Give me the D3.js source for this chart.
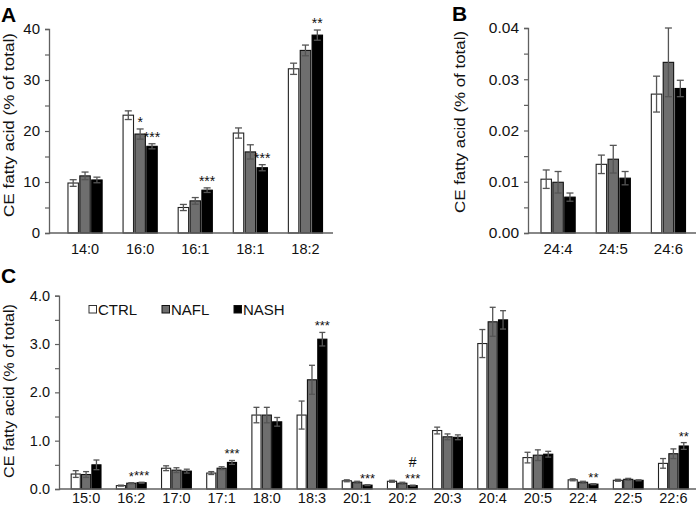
<!DOCTYPE html>
<html><head><meta charset="utf-8">
<script src="https://cdn.jsdelivr.net/npm/d3@7"></script>
<style>
body{margin:0;background:#fff;}
svg{display:block;font-family:"Liberation Sans",Arial,sans-serif;}
</style></head>
<body>
<svg id="chart" width="697" height="513"></svg>
<script>
// ---------- DATA ----------
const seriesNames = ["CTRL", "NAFL", "NASH"];

const catsA = ["14:0", "16:0", "16:1", "18:1", "18:2"];
const ctrlA = [9.8, 23.1, 5.0, 19.6, 32.2];
const naflA = [11.2, 19.4, 6.3, 15.9, 35.8];
const nashA = [10.4, 17.0, 8.4, 12.8, 38.8];
const ctrlErrA = [0.65, 0.85, 0.6, 1.0, 1.1];
const naflErrA = [0.75, 1.0, 0.65, 1.4, 1.05];
const nashErrA = [0.55, 0.5, 0.45, 0.6, 1.0];
const sigA = [
  {cat: "16:0", s: 1, t: "*", lvl: 0},
  {cat: "16:0", s: 2, t: "***", lvl: 0},
  {cat: "16:1", s: 2, t: "***", lvl: 0},
  {cat: "18:1", s: 2, t: "***", lvl: 0},
  {cat: "18:2", s: 2, t: "**", lvl: 0}
];
const ticksA = [0, 5, 10, 15, 20, 25, 30, 35, 40];
const tickLabelsA = ["0", "", "10", "", "20", "", "30", "", "40"];

const catsB = ["24:4", "24:5", "24:6"];
const ctrlB = [0.0105, 0.0134, 0.0271];
const naflB = [0.0099, 0.0144, 0.0333];
const nashB = [0.0070, 0.0107, 0.0282];
const ctrlErrB = [0.0018, 0.0018, 0.0035];
const naflErrB = [0.0021, 0.0027, 0.0067];
const nashErrB = [0.0008, 0.0013, 0.0016];
const sigB = [];
const ticksB = [0, 0.005, 0.01, 0.015, 0.02, 0.025, 0.03, 0.035, 0.04];
const tickLabelsB = ["0.00", "", "0.01", "", "0.02", "", "0.03", "", "0.04"];

const catsC = ["15:0", "16:2", "17:0", "17:1", "18:0", "18:3", "20:1", "20:2", "20:3", "20:4", "20:5", "22:4", "22:5", "22:6"];
const ctrlC = [0.31, 0.07, 0.43, 0.33, 1.53, 1.53, 0.17, 0.16, 1.21, 3.01, 0.65, 0.19, 0.18, 0.53];
const naflC = [0.30, 0.12, 0.39, 0.43, 1.53, 2.26, 0.14, 0.12, 1.08, 3.46, 0.70, 0.14, 0.20, 0.73];
const nashC = [0.50, 0.13, 0.37, 0.55, 1.39, 3.10, 0.08, 0.07, 1.07, 3.50, 0.72, 0.10, 0.18, 0.89];
const ctrlErrC = [0.07, 0.01, 0.05, 0.03, 0.16, 0.29, 0.02, 0.02, 0.07, 0.29, 0.11, 0.02, 0.02, 0.10];
const naflErrC = [0.06, 0.01, 0.05, 0.03, 0.16, 0.30, 0.02, 0.02, 0.06, 0.30, 0.11, 0.02, 0.02, 0.10];
const nashErrC = [0.10, 0.01, 0.04, 0.04, 0.09, 0.14, 0.01, 0.01, 0.05, 0.19, 0.06, 0.01, 0.01, 0.07];
const sigC = [
  {cat: "16:2", s: 1, t: "*", lvl: 0},
  {cat: "16:2", s: 2, t: "***", lvl: 0},
  {cat: "17:1", s: 2, t: "***", lvl: 0},
  {cat: "18:3", s: 2, t: "***", lvl: 0},
  {cat: "20:1", s: 2, t: "***", lvl: 0},
  {cat: "20:2", s: 2, t: "***", lvl: 0},
  {cat: "20:2", s: 2, t: "#", lvl: 1},
  {cat: "22:4", s: 2, t: "**", lvl: 0},
  {cat: "22:6", s: 2, t: "**", lvl: 0}
];
const ticksC = [0, 0.5, 1, 1.5, 2, 2.5, 3, 3.5, 4];
const tickLabelsC = ["0.0", "", "1.0", "", "2.0", "", "3.0", "", "4.0"];

const yTitle = "CE fatty acid (% of total)";

// ---------- DRAW ----------
const svg = d3.select("#chart");
const fills = ["#ffffff", "#6e6e6e", "#000000"];
const strokes = ["#222", "#111", "#000"];
const axisColor = "#606060";
const errColor = "#555";

function drawPanel(cfg) {
  const g = svg.append("g");
  const x = d3.scaleBand().domain(cfg.cats).range(cfg.xRange).paddingInner(cfg.pad).paddingOuter(cfg.pad / 2);
  const xs = d3.scaleBand().domain([0, 1, 2]).range([0, x.bandwidth()]).paddingInner(0.12);
  const y = d3.scaleLinear().domain(cfg.yDomain).range(cfg.yRange);
  const vals = [cfg.ctrl, cfg.nafl, cfg.nash];
  const errs = [cfg.ctrlErr, cfg.naflErr, cfg.nashErr];

  // y axis
  const yAxis = d3.axisLeft(y).tickValues(cfg.ticks).tickSize(4).tickPadding(5)
    .tickFormat((d, i) => cfg.tickLabels[i]);
  const ya = g.append("g").attr("transform", `translate(${cfg.axisX},0)`).call(yAxis);
  ya.select(".domain").attr("stroke", axisColor).attr("stroke-width", 1.3);
  ya.selectAll(".tick line").attr("stroke", axisColor).attr("stroke-width", 1.2);
  ya.selectAll(".tick text").attr("fill", "#111").attr("font-size", cfg.tickFont).attr("font-family", "Liberation Sans, Arial, sans-serif");

  // bars
  const data = [];
  cfg.cats.forEach((c, i) => {
    for (let s = 0; s < 3; s++) data.push({c, s, v: vals[s][i], e: errs[s][i]});
  });
  const bw = xs.bandwidth();
  g.selectAll("rect.bar").data(data).join("rect").attr("class", "bar")
    .attr("x", d => x(d.c) + xs(d.s))
    .attr("y", d => y(d.v))
    .attr("width", bw)
    .attr("height", d => y(cfg.yDomain[0]) - y(d.v))
    .attr("fill", d => fills[d.s])
    .attr("stroke", d => strokes[d.s])
    .attr("stroke-width", 1.1);

  // error bars
  const cap = cfg.cap;
  const eg = g.selectAll("g.err").data(data).join("g").attr("class", "err")
    .attr("stroke", errColor).attr("stroke-width", 1.3);
  eg.append("line")
    .attr("x1", d => x(d.c) + xs(d.s) + bw / 2).attr("x2", d => x(d.c) + xs(d.s) + bw / 2)
    .attr("y1", d => y(d.v - d.e)).attr("y2", d => y(d.v + d.e));
  eg.append("line")
    .attr("x1", d => x(d.c) + xs(d.s) + bw / 2 - cap).attr("x2", d => x(d.c) + xs(d.s) + bw / 2 + cap)
    .attr("y1", d => y(d.v + d.e)).attr("y2", d => y(d.v + d.e));
  eg.append("line")
    .attr("x1", d => x(d.c) + xs(d.s) + bw / 2 - cap).attr("x2", d => x(d.c) + xs(d.s) + bw / 2 + cap)
    .attr("y1", d => y(d.v - d.e)).attr("y2", d => y(d.v - d.e));

  // x axis line
  g.append("line").attr("x1", cfg.axisX).attr("x2", cfg.xRange[1])
    .attr("y1", y(cfg.yDomain[0])).attr("y2", y(cfg.yDomain[0]))
    .attr("stroke", axisColor).attr("stroke-width", 1.4);

  // x labels
  g.selectAll("text.xl").data(cfg.cats).join("text").attr("class", "xl")
    .attr("x", d => x(d) + x.bandwidth() / 2)
    .attr("y", cfg.xLabelY)
    .attr("text-anchor", "middle")
    .attr("font-size", cfg.xFont)
    .attr("fill", "#111")
    .text(d => d);

  // significance
  g.selectAll("text.sig").data(cfg.sig).join("text").attr("class", "sig")
    .attr("x", d => x(d.cat) + xs(d.s) + bw / 2)
    .attr("y", d => {
      const i = cfg.cats.indexOf(d.cat);
      return y(vals[d.s][i] + errs[d.s][i]) - 2 - d.lvl * 16;
    })
    .attr("text-anchor", "middle")
    .attr("font-size", d => d.t === "#" ? 14 : cfg.sigFont)
    .attr("fill", "#111")
    .text(d => d.t);

  // y title
  g.append("text")
    .attr("transform", `translate(${cfg.titleX},${cfg.titleY}) rotate(-90)`)
    .attr("text-anchor", "middle")
    .attr("font-size", 14.5)
    .attr("textLength", cfg.titleLen)
    .attr("lengthAdjust", "spacingAndGlyphs")
    .attr("fill", "#111")
    .text(yTitle);

  // panel letter
  g.append("text").attr("x", cfg.letterX).attr("y", cfg.letterY)
    .attr("font-size", 21).attr("font-weight", "bold").attr("fill", "#000")
    .text(cfg.letter);
  return {x, y, xs};
}

drawPanel({
  cats: catsA, ctrl: ctrlA, nafl: naflA, nash: nashA,
  ctrlErr: ctrlErrA, naflErr: naflErrA, nashErr: nashErrA, sig: sigA,
  ticks: ticksA, tickLabels: tickLabelsA,
  xRange: [57.5, 333], pad: 0.38, yDomain: [0, 40], yRange: [233, 29],
  axisX: 49, cap: 3.5, tickFont: 15, xFont: 14.5, xLabelY: 254, sigFont: 14,
  titleX: 14, titleY: 125, titleLen: 184, letter: "A", letterX: 1, letterY: 22
});

drawPanel({
  cats: catsB, ctrl: ctrlB, nafl: naflB, nash: nashB,
  ctrlErr: ctrlErrB, naflErr: naflErrB, nashErr: nashErrB, sig: sigB,
  ticks: ticksB, tickLabels: tickLabelsB,
  xRange: [530.5, 696], pad: 0.38, yDomain: [0, 0.04], yRange: [233, 28],
  axisX: 528, cap: 3.5, tickFont: 15.5, xFont: 15, xLabelY: 254, sigFont: 14,
  titleX: 465, titleY: 122, titleLen: 182, letter: "B", letterX: 452, letterY: 21
});

drawPanel({
  cats: catsC, ctrl: ctrlC, nafl: naflC, nash: nashC,
  ctrlErr: ctrlErrC, naflErr: naflErrC, nashErr: nashErrC, sig: sigC,
  ticks: ticksC, tickLabels: tickLabelsC,
  xRange: [63.5, 696], pad: 0.34, yDomain: [0, 4], yRange: [489, 295.7],
  axisX: 59, cap: 3, tickFont: 14.5, xFont: 14.5, xLabelY: 503, sigFont: 13,
  titleX: 14, titleY: 391, titleLen: 174, letter: "C", letterX: 1, letterY: 283
});

// legend
const legX = [89, 162, 234];
const lg = svg.append("g");
seriesNames.forEach((n, i) => {
  lg.append("rect").attr("x", legX[i]).attr("y", 305.5).attr("width", 7.5).attr("height", 7.5)
    .attr("fill", fills[i]).attr("stroke", i === 0 ? "#333" : "#111").attr("stroke-width", 1);
  lg.append("text").attr("x", legX[i] + 9).attr("y", 314.5).attr("font-size", 15).attr("fill", "#111").text(n);
});
</script>
</body></html>
